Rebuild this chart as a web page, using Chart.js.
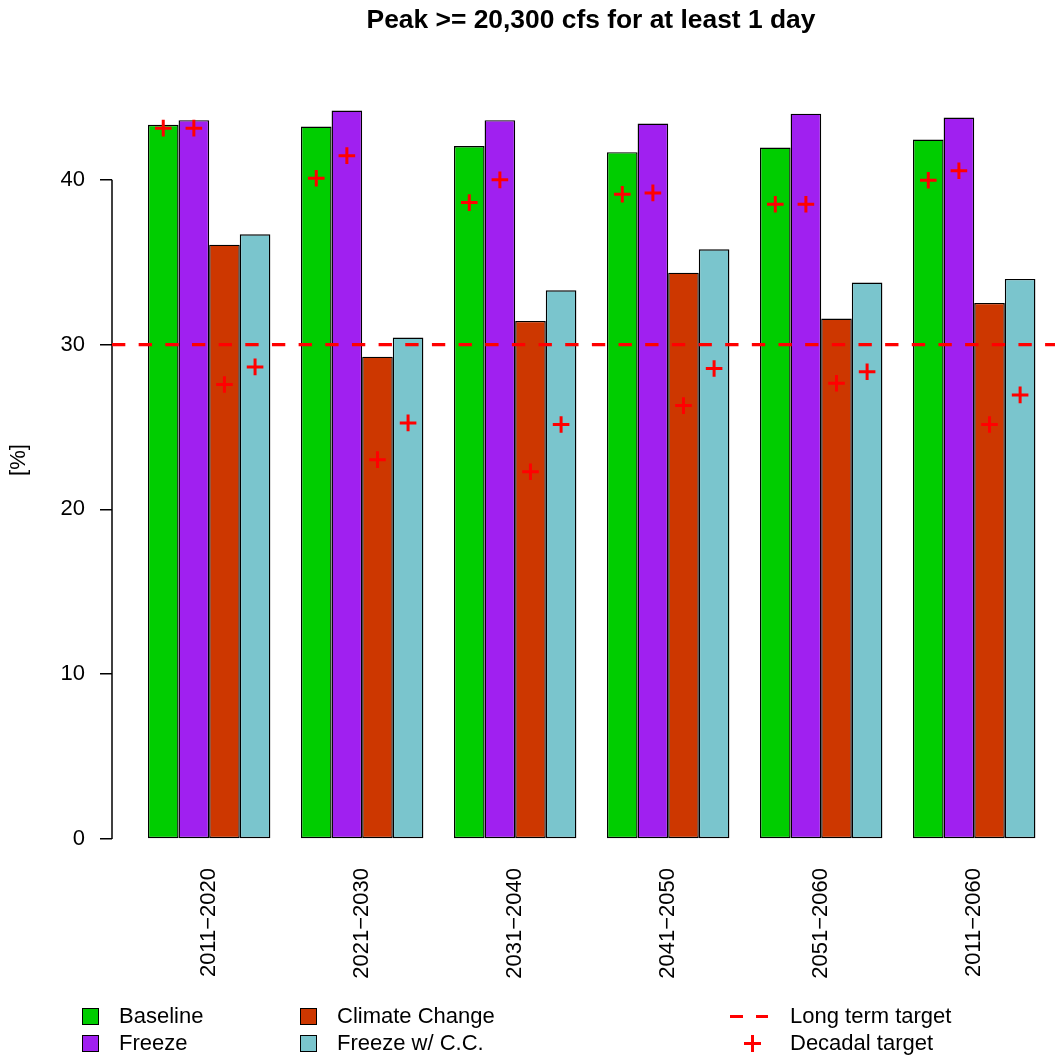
<!DOCTYPE html>
<html><head><meta charset="utf-8">
<script src="https://cdn.jsdelivr.net/npm/chart.js@4"></script>
<style>
html,body{margin:0;padding:0;background:#fff;}
#wrap{position:relative;width:1055px;height:1057px;font-family:"Liberation Sans",Arial,sans-serif;overflow:hidden;}
canvas{position:absolute;left:0;top:0;}
.t{position:absolute;white-space:nowrap;color:#000;font-size:22px;line-height:26px;}
#title{position:absolute;left:0;width:1182px;top:4px;text-align:center;font-weight:bold;font-size:26.4px;line-height:30px;white-space:nowrap;}
.sq{position:absolute;width:15px;height:15px;border:1px solid #000;}
.rb{position:absolute;background:#ff0000;}
</style></head>
<body><div id="wrap"><canvas id="c" width="1055" height="1057"></canvas>
<div id="title">Peak &gt;= 20,300 cfs for at least 1 day</div>
<div id="legend"></div>
</div>
<script>
const categories = ["2011\u22122020","2021\u22122030","2031\u22122040","2041\u22122050","2051\u22122060","2011\u22122060"];
const seriesNames = ["Baseline","Freeze","Climate Change","Freeze w/ C.C."];
const baseline      = [43.34, 43.24, 42.05, 41.68, 41.96, 42.45];
const freeze        = [43.62, 44.21, 43.62, 43.42, 44.02, 43.78];
const climateChange = [36.07, 29.27, 31.44, 34.37, 31.58, 32.53];
const freezeCC      = [36.70, 30.43, 33.30, 35.79, 33.77, 33.99];
const targetBaseline = [43.14, 40.10, 38.62, 39.13, 38.52, 39.98];
const targetFreeze   = [43.14, 41.47, 40.00, 39.21, 38.52, 40.55];
const targetCC       = [27.58, 23.02, 22.29, 26.30, 27.66, 25.15];
const targetFreezeCC = [28.65, 25.25, 25.15, 28.55, 28.36, 26.95];
const longTermTarget = 30;
const yTicks = [0, 10, 20, 30, 40];
const colors = ["#00CD00", "#A020F0", "#CD3700", "#7AC5CD"];

const seriesValues = [baseline, freeze, climateChange, freezeCC];
const seriesTargets = [targetBaseline, targetFreeze, targetCC, targetFreezeCC];
const FONT = "'Liberation Sans', Arial, sans-serif";

const overlayPlugin = {
  id: 'overlay',
  afterDatasetsDraw(chart) {
    const ctx = chart.ctx, ys = chart.scales.y, ca = chart.chartArea;
    ctx.save();
    // y axis line between first and last tick
    ctx.strokeStyle = '#000'; ctx.lineWidth = 1.5;
    ctx.beginPath();
    ctx.moveTo(ca.left, ys.getPixelForValue(yTicks[0]));
    ctx.lineTo(ca.left, ys.getPixelForValue(yTicks[yTicks.length-1]));
    ctx.stroke();
    // long term target dashed line
    const yl = ys.getPixelForValue(longTermTarget);
    ctx.strokeStyle = '#ff0000'; ctx.lineWidth = 3.3;
    ctx.setLineDash([13.33, 13.33]);
    ctx.beginPath(); ctx.moveTo(ca.left, yl); ctx.lineTo(ca.right + 20, yl); ctx.stroke();
    ctx.setLineDash([]);
    // decadal target crosses
    ctx.lineWidth = 3;
    seriesTargets.forEach((arr, j) => {
      const meta = chart.getDatasetMeta(j);
      arr.forEach((v, i) => {
        const x = meta.data[i].x, y = ys.getPixelForValue(v), h = 8.3;
        ctx.beginPath();
        ctx.moveTo(x - h, y); ctx.lineTo(x + h, y);
        ctx.moveTo(x, y - h); ctx.lineTo(x, y + h);
        ctx.stroke();
      });
    });
    ctx.restore();
  }
};

new Chart(document.getElementById('c'), {
  type: 'bar',
  data: {
    datasets: seriesNames.map((name, j) => ({
      label: name,
      data: categories.map((c, i) => ({ x: i, y: seriesValues[j][i] })),
      backgroundColor: colors[j],
      borderColor: '#000',
      borderWidth: 1.4,
      borderSkipped: false,
      categoryPercentage: 0.8,
      barPercentage: 1.0
    }))
  },
  options: {
    responsive: false,
    animation: false,
    devicePixelRatio: 1,
    layout: { padding: { top: 81, left: 0, right: 0, bottom: 0 } },
    plugins: { legend: { display: false }, title: { display: false }, tooltip: { enabled: false } },
    scales: {
      x: {
        type: 'linear', min: -0.635, max: 5.528, offset: false,
        grid: { display: false, drawTicks: false },
        border: { display: false },
        afterBuildTicks: s => { s.ticks = categories.map((c, i) => ({ value: i })); },
        afterFit: s => { s.height = 218; },
        ticks: {
          autoSkip: false, minRotation: 90, maxRotation: 90, padding: 29,
          color: '#000', font: { size: 22, family: FONT },
          callback: v => categories[v]
        }
      },
      y: {
        min: 0, max: 46,
        afterBuildTicks: s => { s.ticks = yTicks.map(v => ({ value: v })); },
        afterFit: s => { s.width = 112; },
        grid: { display: true, drawOnChartArea: false, drawTicks: true, tickLength: 12, color: '#000', lineWidth: 1.5 },
        border: { display: false },
        ticks: { padding: 15, color: '#000', font: { size: 22, family: FONT } },
        title: { display: true, text: '[%]', color: '#000', font: { size: 22, family: FONT }, padding: { top: 6, bottom: 0 } }
      }
    }
  },
  plugins: [overlayPlugin]
});

// legend (HTML)
const lg = document.getElementById('legend');
const legendPos = [[82, 1008], [82, 1035], [300, 1008], [300, 1035]];
seriesNames.forEach((name, j) => {
  const [x, y] = legendPos[j];
  const sq = document.createElement('div'); sq.className = 'sq';
  sq.style.left = x + 'px'; sq.style.top = y + 'px'; sq.style.background = colors[j];
  lg.appendChild(sq);
  const t = document.createElement('div'); t.className = 't';
  t.style.left = (x + 37) + 'px'; t.style.top = (y - 5) + 'px'; t.textContent = name;
  lg.appendChild(t);
});
function rb(l, t, w, h) { const d = document.createElement('div'); d.className = 'rb';
  d.style.left = l + 'px'; d.style.top = t + 'px'; d.style.width = w + 'px'; d.style.height = h + 'px'; lg.appendChild(d); }
rb(730, 1014.5, 12.5, 3.5); rb(755.5, 1014.5, 12.5, 3.5);
rb(743.5, 1041.5, 17, 3); rb(750.5, 1034.5, 3, 17);
[["Long term target", 1003], ["Decadal target", 1030]].forEach(([s, y]) => {
  const t = document.createElement('div'); t.className = 't';
  t.style.left = '790px'; t.style.top = y + 'px'; t.textContent = s; lg.appendChild(t);
});
</script>
</body></html>
